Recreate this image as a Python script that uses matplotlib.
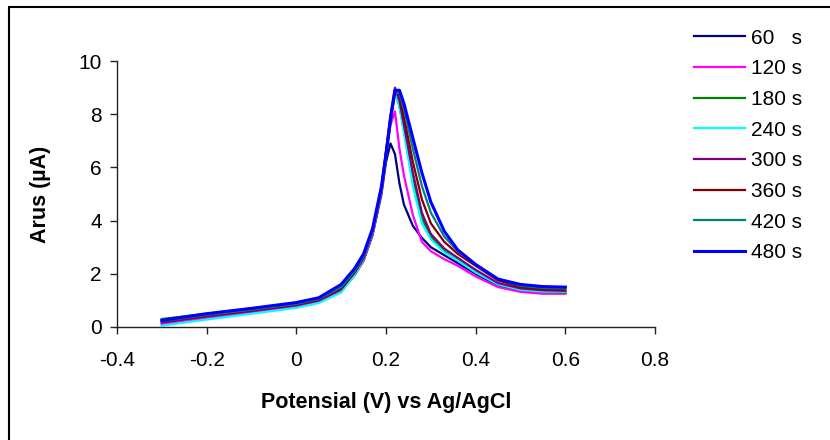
#!/usr/bin/env python3

import matplotlib
matplotlib.use('Agg')
import matplotlib.pyplot as plt
from matplotlib.patches import Rectangle
from matplotlib.ticker import FuncFormatter

plt.rcParams['font.family'] = ['Liberation Sans', 'DejaVu Sans']

# Potential grid (V vs Ag/AgCl)
potential = [-0.3, -0.2, -0.1, 0.0, 0.05, 0.1, 0.13, 0.15, 0.17, 0.19, 0.2, 0.21,
             0.22, 0.23, 0.24, 0.26, 0.28, 0.3, 0.33, 0.36, 0.4, 0.45, 0.5, 0.55, 0.6]

# Current (uA) for each deposition time
i_60 = [0.12, 0.35, 0.55, 0.78, 0.95, 1.35, 1.95, 2.5, 3.45, 5.0, 6.2, 6.9,
        6.5, 5.4, 4.6, 3.8, 3.35, 3.0, 2.7, 2.4, 2.0, 1.55, 1.38, 1.3, 1.28]
i_120 = [0.1, 0.33, 0.55, 0.78, 0.95, 1.35, 1.95, 2.5, 3.5, 5.1, 6.4, 7.6,
         8.1, 6.7, 5.7, 4.2, 3.2, 2.85, 2.55, 2.3, 1.9, 1.5, 1.32, 1.25, 1.25]
i_180 = [0.3, 0.5, 0.7, 0.9, 1.08, 1.5, 2.1, 2.65, 3.65, 5.3, 6.6, 7.9,
         8.8, 8.3, 7.4, 5.5, 4.1, 3.4, 2.85, 2.5, 2.1, 1.6, 1.4, 1.33, 1.3]
i_240 = [0.05, 0.28, 0.5, 0.72, 0.9, 1.3, 1.95, 2.55, 3.55, 5.2, 6.5, 7.8,
         8.8, 8.3, 7.3, 5.3, 3.9, 3.3, 2.8, 2.5, 2.05, 1.6, 1.4, 1.33, 1.33]
i_300 = [0.18, 0.4, 0.6, 0.82, 1.0, 1.42, 2.05, 2.6, 3.6, 5.25, 6.6, 8.0,
         9.0, 8.5, 7.6, 5.8, 4.3, 3.5, 2.95, 2.6, 2.15, 1.65, 1.45, 1.38, 1.36]
i_360 = [0.2, 0.42, 0.63, 0.85, 1.02, 1.45, 2.05, 2.6, 3.6, 5.2, 6.5, 7.8,
         8.9, 8.7, 7.9, 6.2, 4.8, 3.9, 3.2, 2.75, 2.3, 1.75, 1.5, 1.42, 1.4]
i_420 = [0.22, 0.45, 0.65, 0.87, 1.05, 1.5, 2.1, 2.65, 3.6, 5.2, 6.4, 7.7,
         8.8, 8.8, 8.2, 6.7, 5.3, 4.3, 3.4, 2.85, 2.35, 1.8, 1.55, 1.47, 1.45]
i_480 = [0.25, 0.5, 0.7, 0.92, 1.1, 1.6, 2.2, 2.75, 3.7, 5.3, 6.5, 7.8,
         8.9, 8.9, 8.4, 7.1, 5.8, 4.7, 3.6, 2.9, 2.35, 1.8, 1.6, 1.52, 1.5]

labels = ['60   s', '120 s', '180 s', '240 s', '300 s', '360 s', '420 s', '480 s']
colors = ['#000080', '#FF00FF', '#008000', '#00FFFF', '#800080', '#800000', '#008080', '#0000FF']
series = [i_60, i_120, i_180, i_240, i_300, i_360, i_420, i_480]

fig = plt.figure(figsize=(8.3, 4.4), dpi=100)
ax = fig.add_axes([117 / 830, 1 - 327 / 440, (655 - 117) / 830, (327 - 61) / 440])

for cur, lab, col in zip(series, labels, colors):
    lw = 2.2 if col == '#0000FF' else 1.6
    ax.plot(potential, cur, color=col, lw=lw, label=lab)

ax.set_xlim(-0.4, 0.8)
ax.set_ylim(0, 10)
ax.set_xticks([-0.4, -0.2, 0, 0.2, 0.4, 0.6, 0.8])
ax.set_yticks([0, 2, 4, 6, 8, 10])
ax.xaxis.set_major_formatter(FuncFormatter(lambda v, p: f'{v:g}' if abs(v) > 1e-9 else '0'))
ax.tick_params(labelsize=15, length=5, width=1, direction='out', colors='#222222', labelcolor='black')
ax.tick_params(axis='x', pad=12)
ax.tick_params(axis='y', pad=6)

for side in ['top', 'right']:
    ax.spines[side].set_visible(False)
for side in ['left', 'bottom']:
    ax.spines[side].set_linewidth(1)
    ax.spines[side].set_color('#222222')

ax.set_xlabel('Potensial (V) vs Ag/AgCl', fontsize=15.5, fontweight='bold', labelpad=16)
ax.set_ylabel('Arus (\u00b5A)', fontsize=15.5, fontweight='bold', labelpad=20)

fig.legend(loc='upper left', bbox_to_anchor=(675 / 830, 1 - 10 / 440), frameon=False,
           fontsize=15, handlelength=2.45, handletextpad=0.3, labelspacing=0.56)

# outer chart frame
fig.patches.append(Rectangle((8.5 / 830, -0.1), 1.2, 1.1 - 7.5 / 440, transform=fig.transFigure,
                             fill=False, edgecolor='black', lw=1.5))

fig.savefig('out.png', dpi=100)
